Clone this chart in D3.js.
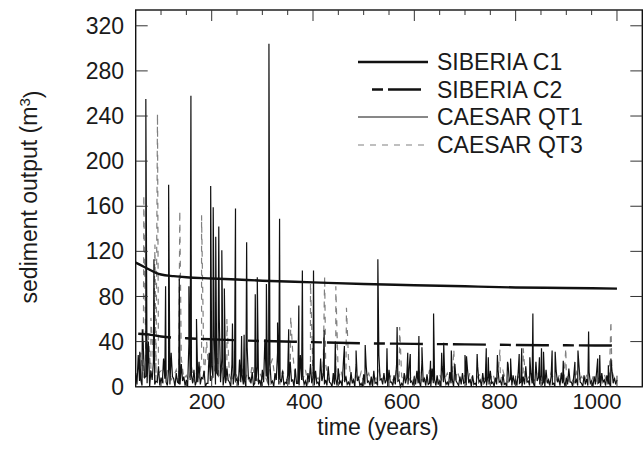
<!DOCTYPE html>
<html>
<head>
<meta charset="utf-8">
<script src="https://cdn.jsdelivr.net/npm/d3@7/dist/d3.min.js"></script>
<style>
  body { margin: 0; background: #fff; }
  text { font-family: "Liberation Sans", Arial, sans-serif; fill: #1a1a1a; }
</style>
</head>
<body>
<div id="vis"></div>
<script>
const W = 644, H = 459;
const plot = {left: 135.7, right: 642.3, top: 10, bottom: 386.7};

// SIBERIA runs (smooth curves)
const siberiaYears = [50, 70, 90, 100, 125, 150, 200, 250, 300, 400, 500, 600, 700, 800, 900, 1000];
const siberiaC1 = [110, 105.5, 101, 99.5, 98, 97, 96, 95, 94, 92.5, 91, 90, 89, 88, 87.5, 87];
const c2Years = [55, 80, 100, 150, 200, 300, 400, 500, 600, 700, 800, 900, 1000];
const siberiaC2 = [47, 46, 44.5, 43, 42, 40.5, 39.5, 38.5, 38, 37.5, 37, 36.7, 36.5];

// CAESAR background output: highs every 5 years from 50, troughs in between
const baseYears = d3.range(50, 1001, 5);
const lowYears = d3.range(52.5, 1000, 5);
const qt1Base = [
  12, 28, 6, 35, 9, 40, 14, 22, 5, 18,
  8, 25, 4, 16, 30, 7, 12, 3, 20, 9,
  6, 38, 10, 15, 5, 22, 8, 14, 3, 30,
  18, 45, 12, 60, 25, 9, 16, 4, 20, 11,
  7, 24, 10, 5, 35, 8, 13, 3, 18, 6,
  15, 42, 9, 20, 5, 12, 30, 7, 14, 4,
  10, 22, 6, 16, 3, 28, 9, 5, 12, 20,
  8, 14, 4, 25, 10, 6, 18, 3, 12, 7,
  16, 5, 22, 9, 4, 13, 6, 20, 8, 3,
  11, 18, 5, 9, 14, 4, 28, 7, 12, 6,
  15, 4, 10, 20, 6, 3, 12, 8, 18, 5,
  9, 14, 4, 22, 7, 11, 3, 16, 6, 10,
  5, 18, 8, 4, 13, 6, 20, 3, 9, 12,
  4, 15, 7, 10, 3, 18, 6, 12, 5, 9,
  14, 4, 8, 16, 5, 11, 3, 20, 7, 10,
  6, 13, 4, 9, 18, 5, 12, 3, 22, 8,
  10, 4, 15, 6, 9, 3, 14, 7, 12, 5,
  8, 16, 4, 11, 6, 19, 3, 10, 7, 13,
  5, 9, 14, 4, 12, 6, 10, 3, 15, 8,
  6];
const qt1Lows = [
  2, 5, 1, 8, 3, 0, 6, 2, 4, 1,
  3, 7, 1, 2, 9, 0, 4, 2, 5, 1,
  0, 6, 3, 1, 4, 2, 7, 0, 3, 5,
  8, 2, 10, 4, 1, 3, 6, 0, 2, 5,
  1, 4, 2, 0, 7, 3, 1, 5, 2, 0,
  4, 9, 1, 3, 0, 6, 2, 4, 1, 3,
  2, 5, 0, 3, 1, 6, 2, 0, 4, 3,
  1, 3, 0, 5, 2, 1, 4, 0, 2, 1,
  3, 0, 4, 2, 1, 3, 0, 5, 1, 0,
  2, 4, 1, 0, 3, 1, 6, 2, 3, 0,
  4, 1, 2, 5, 0, 1, 3, 2, 4, 1,
  2, 3, 0, 4, 1, 2, 0, 3, 1, 2,
  0, 4, 2, 1, 3, 0, 5, 1, 2, 3,
  1, 3, 0, 2, 1, 4, 0, 3, 1, 2,
  3, 0, 2, 4, 1, 2, 0, 5, 1, 3,
  1, 3, 0, 2, 4, 1, 3, 0, 5, 2,
  2, 0, 3, 1, 2, 0, 4, 1, 3, 0,
  2, 4, 0, 3, 1, 4, 0, 2, 1, 3,
  0, 2, 3, 0, 4, 1, 2, 0, 3, 2];
const qt3Base = [
  5, 15, 30, 8, 20, 45, 10, 25, 6, 12,
  14, 4, 10, 20, 6, 9, 15, 3, 25, 7,
  10, 5, 18, 4, 12, 8, 22, 6, 40, 9,
  6, 12, 30, 8, 15, 20, 5, 10, 4, 14,
  9, 3, 16, 6, 11, 4, 20, 8, 5, 12,
  7, 10, 4, 18, 25, 6, 9, 3, 14, 8,
  5, 12, 30, 7, 4, 10, 6, 15, 3, 9,
  12, 5, 8, 3, 14, 20, 6, 9, 4, 11,
  6, 15, 4, 9, 25, 7, 3, 10, 5, 13,
  4, 8, 12, 3, 10, 6, 14, 5, 9, 4,
  7, 11, 3, 16, 5, 9, 4, 12, 6, 10,
  3, 8, 13, 5, 10, 4, 15, 6, 9, 3,
  11, 5, 7, 12, 4, 9, 3, 14, 6, 8,
  10, 4, 13, 6, 3, 9, 11, 5, 8, 4,
  7, 12, 3, 9, 5, 14, 6, 4, 10, 8,
  3, 9, 6, 13, 4, 8, 11, 5, 7, 12,
  4, 10, 6, 3, 12, 7, 5, 9, 14, 4,
  11, 5, 8, 3, 13, 6, 9, 4, 10, 7,
  5, 12, 3, 8, 6, 11, 4, 9, 14, 7,
  5];

// storm peaks
const qt1SpikeYears = [58, 63, 70, 86, 109, 115, 136, 155, 159, 170, 198, 203, 208, 214, 220, 225, 241, 247,
  259, 264, 269, 286, 290, 308, 313, 330, 334, 352, 372, 379, 401, 422, 444, 462, 485, 503, 528, 546, 566,
  587, 592, 609, 615, 632, 638, 654, 658, 673, 700, 703, 724, 742, 746, 764, 784, 790, 807, 812, 828, 834,
  847, 851, 855, 872, 878, 894, 917, 923, 944, 962, 966, 983, 988];
const qt1SpikeValues = [31, 51, 255, 113, 89, 179, 96, 89, 258, 60, 178, 159, 133, 142, 121, 87, 56, 158,
  45, 46, 128, 82, 97, 91, 304, 57, 149, 51, 72, 103, 103, 50, 40, 36, 32, 37, 113, 34, 53,
  30, 29, 45, 35, 23, 65, 30, 39, 32, 28, 27, 29, 34, 26, 28, 22, 25, 29, 34, 26, 65,
  26, 34, 31, 32, 31, 23, 22, 32, 49, 25, 28, 19, 25];
const qt3SpikeYears = [66, 80, 88, 93, 137, 180, 230, 356, 395, 423, 445, 466, 571, 678, 769, 815, 899, 988];
const qt3SpikeValues = [170, 61, 126, 242, 156, 152, 60, 62, 92, 98, 89, 70, 53, 33, 33, 34, 34, 58];

const xMajorTicks = [200, 400, 600, 800, 1000];
const xMinorTicks = [100, 150, 250, 300, 350, 450, 500, 550, 650, 700, 750, 850, 900, 950];
const yTicks = [0, 40, 80, 120, 160, 200, 240, 280, 320];

const series = [
  {name: "SIBERIA C1", color: "#111", width: 2.4, dash: null},
  {name: "SIBERIA C2", color: "#111", width: 2.4, dash: "33,14,11,5"},
  {name: "CAESAR QT1", color: "#111", width: 1.2, dash: null},
  {name: "CAESAR QT3", color: "#808080", width: 1.2, dash: "6,6"}
];

const svg = d3.select("#vis").append("svg")
  .attr("width", W)
  .attr("height", H);

const x = d3.scaleLinear().domain([50, 1050]).range([plot.left, plot.right]);
const y = d3.scaleLinear().domain([0, 334]).range([plot.bottom, plot.top]);
// the printed year labels sit a little left of their ticks in the original
const xLabel = d3.scaleLinear().domain([200, 1000]).range([207, 597]);

// merge background, troughs and peaks into one time series
function buildSeries(base, lows, spikeYears, spikeValues) {
  const pts = baseYears.map((t, i) => ({t: t, v: base[i], o: 0}));
  if (lows) lowYears.forEach((t, i) => pts.push({t: t, v: lows[i], o: 0}));
  spikeYears.forEach((t, i) => pts.push({t: t, v: spikeValues[i], o: 1}));
  pts.sort((a, b) => a.t - b.t || a.o - b.o);
  return pts;
}

const qt1 = buildSeries(qt1Base, qt1Lows, qt1SpikeYears, qt1SpikeValues);
const qt3 = buildSeries(qt3Base, null, qt3SpikeYears, qt3SpikeValues);

const line = d3.line().x(d => x(d.t)).y(d => y(d.v));

const g = svg.append("g");

g.append("path").datum(qt3)
  .attr("d", line).attr("fill", "none")
  .attr("stroke", series[3].color).attr("stroke-width", series[3].width)
  .attr("stroke-dasharray", series[3].dash);

g.append("path").datum(qt1)
  .attr("d", line).attr("fill", "none")
  .attr("stroke", series[2].color).attr("stroke-width", series[2].width);

const smooth = d3.line().x(d => x(d.t)).y(d => y(d.v)).curve(d3.curveMonotoneX);

g.append("path").datum(c2Years.map((t, i) => ({t: t, v: siberiaC2[i]})))
  .attr("d", smooth).attr("fill", "none")
  .attr("stroke", series[1].color).attr("stroke-width", series[1].width)
  .attr("stroke-dasharray", series[1].dash);

g.append("path").datum(siberiaYears.map((t, i) => ({t: t, v: siberiaC1[i]})))
  .attr("d", smooth).attr("fill", "none")
  .attr("stroke", series[0].color).attr("stroke-width", series[0].width);

// frame
svg.append("rect")
  .attr("x", plot.left).attr("y", plot.top)
  .attr("width", plot.right - plot.left).attr("height", plot.bottom - plot.top)
  .attr("fill", "none").attr("stroke", "#111").attr("stroke-width", 1.4);

// inward ticks on all four sides
const ticks = svg.append("g").attr("stroke", "#333").attr("stroke-width", 1);
yTicks.forEach(v => {
  ticks.append("line").attr("x1", plot.left).attr("x2", plot.left + 12).attr("y1", y(v)).attr("y2", y(v));
  ticks.append("line").attr("x1", plot.right - 12).attr("x2", plot.right).attr("y1", y(v)).attr("y2", y(v));
});
xMajorTicks.forEach(v => {
  ticks.append("line").attr("x1", x(v)).attr("x2", x(v)).attr("y1", plot.top).attr("y2", plot.top + 11);
  ticks.append("line").attr("x1", x(v)).attr("x2", x(v)).attr("y1", plot.bottom).attr("y2", plot.bottom - 11);
});
xMinorTicks.forEach(v => {
  ticks.append("line").attr("x1", x(v)).attr("x2", x(v)).attr("y1", plot.top).attr("y2", plot.top + 5);
  ticks.append("line").attr("x1", x(v)).attr("x2", x(v)).attr("y1", plot.bottom).attr("y2", plot.bottom - 5);
});

// tick labels
svg.append("g").selectAll("text")
  .data(yTicks).enter().append("text")
  .attr("x", 124).attr("y", d => y(d)).attr("dy", "0.35em")
  .attr("text-anchor", "end").style("font-size", "23px")
  .text(d => d);

svg.append("g").selectAll("text")
  .data(xMajorTicks).enter().append("text")
  .attr("x", d => xLabel(d)).attr("y", 409)
  .attr("text-anchor", "middle").style("font-size", "22px")
  .text(d => d);

// axis titles
svg.append("text")
  .attr("x", 378).attr("y", 435)
  .attr("text-anchor", "middle").style("font-size", "23px")
  .text("time (years)");

const yt = svg.append("text")
  .attr("transform", "translate(37,197) rotate(-90)")
  .attr("text-anchor", "middle").style("font-size", "23px");
yt.append("tspan").text("sediment output (m");
yt.append("tspan").attr("dy", "-0.45em").style("font-size", "15px").text("3");
yt.append("tspan").attr("dy", "0.45em").text(")");

// legend
const legendRows = [62, 89.5, 117, 145];
const legend = svg.append("g");
series.forEach((s, i) => {
  legend.append("line")
    .attr("x1", 358).attr("x2", 428)
    .attr("y1", legendRows[i]).attr("y2", legendRows[i])
    .attr("stroke", s.color).attr("stroke-width", i === 2 ? 1 : s.width)
    .attr("stroke-dasharray", s.dash)
    .attr("stroke-dashoffset", i === 1 ? 33 : 0);
  legend.append("text")
    .attr("x", 437).attr("y", legendRows[i] + 8)
    .style("font-size", "23px")
    .text(s.name);
});
</script>
</body>
</html>
